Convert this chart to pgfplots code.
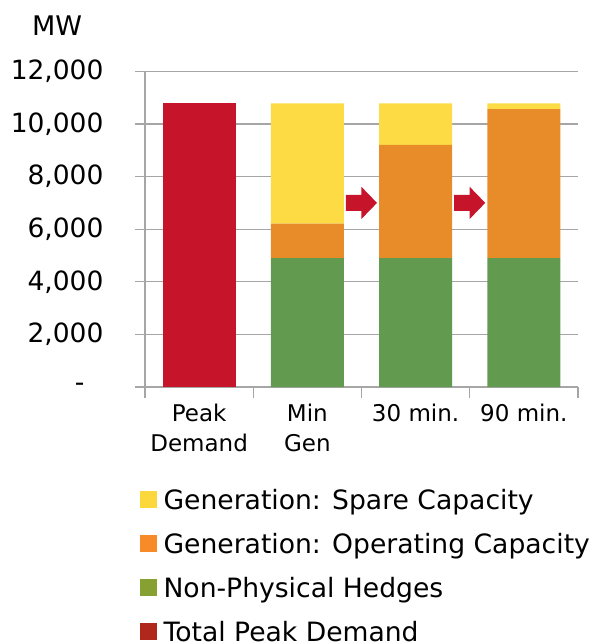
\documentclass[border=0pt]{standalone}
\usepackage{fontspec}
\setmainfont{DejaVu Sans}
\usepackage{pgfplots}
\pgfplotsset{compat=1.18}
\definecolor{barred}{HTML}{C6152A}
\definecolor{baryellow}{HTML}{FDDB45}
\definecolor{barorange}{HTML}{E88C2A}
\definecolor{bargreen}{HTML}{629B50}
\definecolor{lgyellow}{HTML}{FDD83C}
\definecolor{lgorange}{HTML}{F68B28}
\definecolor{lggreen}{HTML}{86A032}
\definecolor{lgred}{HTML}{B0281C}
\definecolor{gridgray}{HTML}{A6A6A6}
\begin{document}
\begin{tikzpicture}
\path[use as bounding box] (-145bp,-256bp) rectangle (450bp,387bp);
\begin{axis}[
  at={(0,0)}, anchor=south west,
  scale only axis, width=433bp, height=315.6bp,
  xmin=-0.5, xmax=3.5, ymin=0, ymax=12000,
  ybar stacked, bar width=0.675,
  axis x line*=bottom, axis y line*=left,
  axis line style={draw=gridgray, line width=1.2bp},
  ymajorgrids, grid style={draw=gridgray, line width=1.2bp},
  scaled y ticks=false,
  ytick={0,2000,4000,6000,8000,10000,12000},
  yticklabels={{-\rule{19bp}{0pt}},{2,000},{4,000},{6,000},{8,000},{10,000},{12,000}},
  tick align=outside,
  major tick length=10bp, minor tick length=11bp,
  tick style={draw=gridgray, line width=1.2bp},
  xtick={0,1,2,3},
  xticklabels={{Peak\\Demand},{Min\\Gen},{30 min.},{90 min.}},
  major x tick style={draw=none},
  minor xtick={-0.5,0.5,1.5,2.5,3.5},
  yticklabel style={font=\fontsize{26.5bp}{30bp}\selectfont, anchor=east, xshift=-28bp},
  xticklabel style={font=\fontsize{23bp}{30.5bp}\selectfont, align=center, anchor=north, yshift=-3bp},
  legend style={at={(0,0)}, anchor=north west, xshift=-5bp, yshift=-98bp,
    draw=none, fill=none, inner sep=0pt, column sep=7bp,
    font=\fontsize{26.6bp}{32bp}\selectfont,
    nodes={inner sep=0pt, text height=24bp, text depth=20bp}},
  legend cell align=left,
]
\addplot[fill=bargreen, draw=none, forget plot] coordinates {(0,0) (1,4900) (2,4900) (3,4900)};
\addplot[fill=barorange, draw=none, forget plot] coordinates {(0,0) (1,1310) (2,4310) (3,5670)};
\addplot[fill=baryellow, draw=none, forget plot] coordinates {(0,0) (1,4570) (2,1570) (3,210)};
\addplot[fill=barred, draw=none, forget plot] coordinates {(0,10780) (1,0) (2,0) (3,0)};
\addlegendimage{legend image code/.code={\fill[lgyellow] (0bp,0bp) rectangle (16bp,16bp);}}
\addlegendentry{Generation: Spare Capacity}
\addlegendimage{legend image code/.code={\fill[lgorange] (0bp,0bp) rectangle (16bp,16bp);}}
\addlegendentry{Generation: Operating Capacity}
\addlegendimage{legend image code/.code={\fill[lggreen] (0bp,0bp) rectangle (16bp,16bp);}}
\addlegendentry{Non-Physical Hedges}
\addlegendimage{legend image code/.code={\fill[lgred] (0bp,0bp) rectangle (16bp,16bp);}}
\addlegendentry{Total Peak Demand}
\fill[barred] ([shift={(-15.5bp,-8bp)}]axis cs:1.5,7000) -- ++(15.5bp,0bp) -- ++(0bp,-8bp) -- ++(15.5bp,16bp) -- ++(-15.5bp,16bp) -- ++(0bp,-8bp) -- ++(-15.5bp,0bp) -- cycle;
\fill[barred] ([shift={(-15.5bp,-8bp)}]axis cs:2.5,7000) -- ++(15.5bp,0bp) -- ++(0bp,-8bp) -- ++(15.5bp,16bp) -- ++(-15.5bp,16bp) -- ++(0bp,-8bp) -- ++(-15.5bp,0bp) -- cycle;
\end{axis}
\node[anchor=base, font=\fontsize{27bp}{32bp}\selectfont] at (-88bp,351bp) {MW};
\end{tikzpicture}
\end{document}
